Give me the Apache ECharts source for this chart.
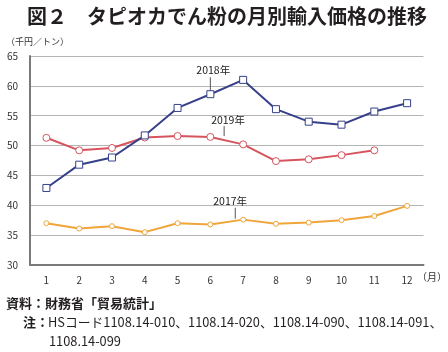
<!DOCTYPE html>
<html><head><meta charset="utf-8">
<script src="https://cdn.jsdelivr.net/npm/echarts@6/dist/echarts.min.js"></script>
<style>html,body{margin:0;padding:0;background:#fff}#c{width:448px;height:352px}</style>
</head><body><div id="c"></div>
<script>
const months = ['1','2','3','4','5','6','7','8','9','10','11','12'];
const yTicks = [30,35,40,45,50,55,60,65];
const s2017 = [37.0,36.1,36.5,35.5,37.0,36.8,37.6,36.9,37.1,37.5,38.2,39.9];
const s2018 = [42.9,46.8,48.0,51.7,56.3,58.6,61.0,56.1,54.0,53.5,55.7,57.1];
const s2019 = [51.3,49.2,49.6,51.35,51.6,51.45,50.2,47.4,47.7,48.4,49.2,null];
const names = ['2017年','2018年','2019年'];

const FONT = '"Noto Sans CJK JP", "Noto Sans", sans-serif';
const chart = echarts.init(document.getElementById('c'), null, {renderer:'canvas'});
const BLUE='#36418a', RED='#d6545d', ORANGE='#f0a53a';
chart.setOption({
  animation:false,
  textStyle:{fontFamily:FONT},
  grid:{left:30,right:24.5,top:56,bottom:87,containLabel:false},
  xAxis:{type:'category',data:months,boundaryGap:true,
    axisLine:{lineStyle:{color:'#7a7a7a',width:2}},
    axisTick:{show:false},
    axisLabel:{color:'#333',fontSize:10,margin:10,fontFamily:FONT},
    splitLine:{show:false}},
  yAxis:{type:'value',min:yTicks[0],max:yTicks[yTicks.length-1],interval:5,
    axisLine:{show:true,lineStyle:{color:'#7a7a7a',width:2}},
    axisTick:{show:false},
    axisLabel:{color:'#333',fontSize:10,margin:12,fontFamily:FONT},
    splitLine:{lineStyle:{color:'#b4b4b4',width:1}}},
  series:[
    {name:names[0],type:'line',data:s2017,symbol:'circle',symbolSize:5,
     lineStyle:{color:ORANGE,width:2},itemStyle:{color:'#fff',borderColor:ORANGE,borderWidth:1}},
    {name:names[2],type:'line',data:s2019,symbol:'circle',symbolSize:7,
     lineStyle:{color:RED,width:2},itemStyle:{color:'#fff',borderColor:RED,borderWidth:1}},
    {name:names[1],type:'line',data:s2018,symbol:'rect',symbolSize:7,
     lineStyle:{color:BLUE,width:2},itemStyle:{color:'#fff',borderColor:BLUE,borderWidth:1}}
  ]
});

function px(i,v){return chart.convertToPixel({gridIndex:0},[i,v]);}
function lerp(a,b,t){return [a[0]+(b[0]-a[0])*t, a[1]+(b[1]-a[1])*t];}
const ann = [];
function label(text, at, dx, yTop, yBot, ty){
  ann.push({type:'text',left:at[0]+dx,top:ty,style:{text:text,fontSize:10.5,fill:'#222',fontFamily:FONT}});
  ann.push({type:'line',shape:{x1:at[0],y1:yTop,x2:at[0],y2:yBot},style:{stroke:'#555',lineWidth:1}});
}
const p18 = px(5,s2018[5]);
label(names[1], p18, -14, p18[1]-17, p18[1]-3, p18[1]-29);
const p19 = lerp(px(5,s2019[5]), px(6,s2019[6]), 0.42);
label(names[2], p19, -13, p19[1]-14, p19[1]-4, p19[1]-25);
const p17 = lerp(px(5,s2017[5]), px(6,s2017[6]), 0.76);
label(names[0], p17, -22, p17[1]-13, p17[1]-2, p17[1]-25);

chart.setOption({graphic:[
  {type:'text',left:27,top:6,style:{text:'図２　タピオカでん粉の月別輸入価格の推移',fontSize:20,fontWeight:'bold',fill:'#231f20',fontFamily:FONT}},
  {type:'text',left:6,top:37,style:{text:'（千円／トン）',fontSize:9,fill:'#333',fontFamily:FONT}},
  {type:'text',left:417,top:272,style:{text:'（月）',fontSize:10,fill:'#333',fontFamily:FONT}},
  {type:'text',left:6,top:297,style:{text:'資料：財務省「貿易統計」',fontSize:13,fontWeight:'bold',fill:'#231f20',fontFamily:FONT}},
  {type:'text',left:23,top:316,style:{text:'注：',fontSize:13,fontWeight:'bold',fill:'#231f20',fontFamily:FONT}},
  {type:'text',left:48,top:316,style:{text:'HSコード1108.14-010、1108.14-020、1108.14-090、1108.14-091、',fontSize:12.8,fill:'#231f20',fontFamily:FONT}},
  {type:'text',left:49,top:335,style:{text:'1108.14-099',fontSize:12.8,fill:'#231f20',fontFamily:FONT}}
].concat(ann)});
</script></body></html>
